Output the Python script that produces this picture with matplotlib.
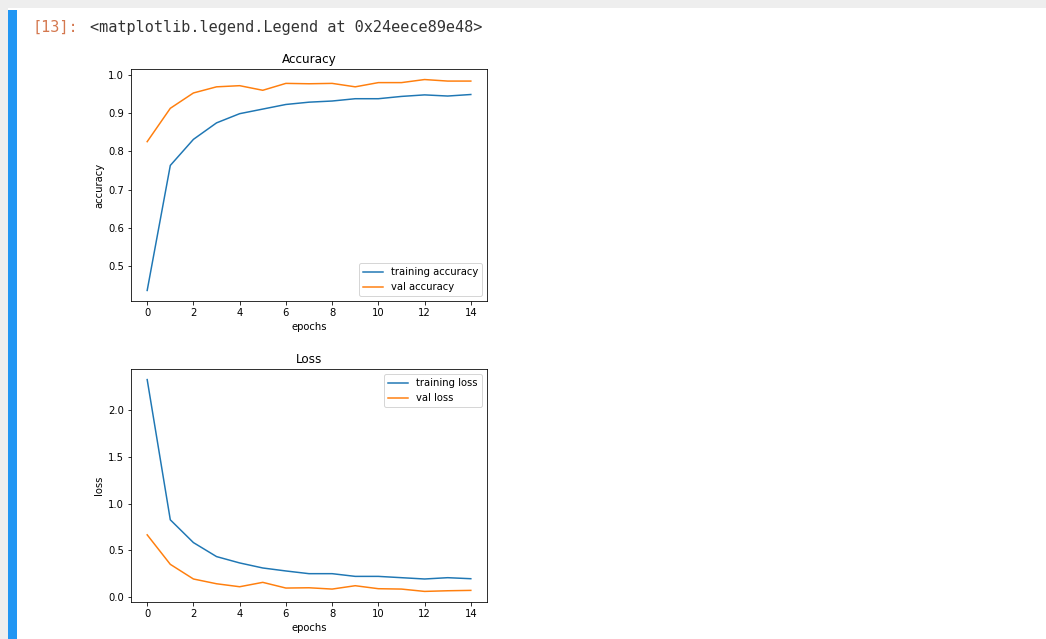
import matplotlib
matplotlib.use("Agg")
import matplotlib.pyplot as plt
from matplotlib.patches import Rectangle

W, H = 1046, 639

epochs = list(range(15))
train_acc = [0.437, 0.763, 0.831, 0.874, 0.898, 0.910, 0.922, 0.928, 0.931, 0.937, 0.937, 0.943, 0.947, 0.944, 0.948]
val_acc = [0.825, 0.912, 0.952, 0.968, 0.971, 0.959, 0.977, 0.976, 0.977, 0.968, 0.979, 0.979, 0.987, 0.983, 0.983]
train_loss = [2.33, 0.828, 0.584, 0.434, 0.366, 0.312, 0.280, 0.251, 0.251, 0.222, 0.222, 0.208, 0.194, 0.208, 0.197]
val_loss = [0.667, 0.351, 0.194, 0.143, 0.111, 0.158, 0.097, 0.100, 0.086, 0.122, 0.090, 0.086, 0.061, 0.068, 0.072]

fig = plt.figure(figsize=(W / 72, H / 72), dpi=72)
fig.patch.set_facecolor("white")

# notebook chrome
def px(x, y, w, h, color):
    fig.add_artist(Rectangle((x / W, 1 - (y + h) / H), w / W, h / H,
                             transform=fig.transFigure, color=color, lw=0))

px(0, 0, W, 8, "#eeeeee")
px(0, 0, 8, H, "#eeeeee")
px(8, 10, 9, H - 10, "#2196f3")

fig.text(33 / W, 1 - 32 / H, "[13]:", family="DejaVu Sans Mono", fontsize=15.3,
         color="#d4784f", va="baseline")
fig.text(90 / W, 1 - 32 / H, "<matplotlib.legend.Legend at 0x24eece89e48>",
         family="DejaVu Sans Mono", fontsize=15.3, color="#333333", va="baseline")

ax1 = fig.add_axes([131 / W, 1 - 301 / H, 356 / W, 232 / H])
ax1.plot(epochs, train_acc, label="training accuracy")
ax1.plot(epochs, val_acc, label="val accuracy")
ax1.set_title("Accuracy")
ax1.set_xlabel("epochs")
ax1.set_ylabel("accuracy")
ax1.legend(loc="lower right")

ax2 = fig.add_axes([131 / W, 1 - 602 / H, 356 / W, 233 / H])
ax2.plot(epochs, train_loss, label="training loss")
ax2.plot(epochs, val_loss, label="val loss")
ax2.set_title("Loss")
ax2.set_xlabel("epochs")
ax2.set_ylabel("loss")
ax2.legend()

fig.savefig("out.png", dpi=72)
